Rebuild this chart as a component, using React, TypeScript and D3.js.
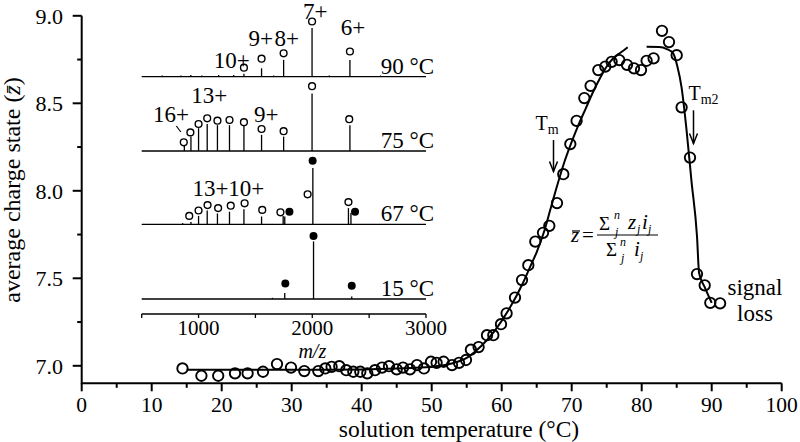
import React from 'react';
import * as d3 from 'd3';

// ---------- main data ----------
const temperatures = [14.4, 17.1, 19.5, 21.9, 23.7, 25.9, 27.9, 29.9, 31.8, 33.8, 34.8, 35.7, 36.8, 37.8, 38.8, 39.8, 40.8, 41.9, 42.9, 43.9, 45.0, 45.9, 46.9, 47.9, 48.9, 49.9, 50.7, 51.7, 52.9, 53.9, 54.9, 55.6, 56.7, 57.9, 58.8, 59.9, 60.7, 61.9, 62.9, 63.8, 64.8, 65.9, 66.8, 67.9, 68.8, 69.8, 70.7, 71.8, 72.7, 73.8, 74.8, 75.7, 76.8, 77.9, 78.9, 79.9, 80.7, 81.7, 82.9, 83.9, 85.0, 85.7, 86.9, 87.9, 89.0, 89.8, 91.2];
const chargeStates = [6.985, 6.943, 6.943, 6.957, 6.957, 6.966, 7.01, 6.99, 6.97, 6.97, 6.985, 6.994, 6.998, 6.975, 6.966, 6.966, 6.957, 6.975, 6.99, 6.998, 6.98, 6.99, 6.98, 7.004, 6.985, 7.023, 7.017, 7.023, 7.004, 7.017, 7.033, 7.092, 7.107, 7.175, 7.175, 7.238, 7.30, 7.39, 7.49, 7.575, 7.71, 7.76, 7.80, 7.93, 8.095, 8.267, 8.40, 8.53, 8.60, 8.69, 8.71, 8.737, 8.747, 8.72, 8.70, 8.69, 8.743, 8.757, 8.914, 8.85, 8.775, 8.477, 8.19, 7.524, 7.46, 7.36, 7.357];

const fit1T = [15, 25, 35, 45, 50, 53, 55, 57, 59, 61, 63, 64, 65, 66, 67, 68, 69, 70, 71, 72, 73, 74, 75, 76, 77, 78];
const fit1Z = [6.978, 6.978, 6.978, 6.985, 6.995, 7.015, 7.045, 7.11, 7.20, 7.32, 7.47, 7.56, 7.65, 7.76, 7.90, 8.04, 8.17, 8.28, 8.38, 8.47, 8.56, 8.64, 8.71, 8.76, 8.79, 8.82];
const fit2T = [80.7, 82.5, 83.6, 84.5, 85.1, 85.7, 86.4, 87.1, 87.9, 88.2, 89.0, 90.0];
const fit2Z = [8.823, 8.822, 8.81, 8.785, 8.71, 8.59, 8.35, 8.06, 7.74, 7.53, 7.45, 7.36];

const xTicks = [0, 10, 20, 30, 40, 50, 60, 70, 80, 90, 100];
const xMinorTicks = [5, 15, 25, 35, 45, 55, 65, 75, 85, 95];
const yTicks = [7.0, 7.5, 8.0, 8.5, 9.0];
const yMinorTicks = [7.25, 7.75, 8.25, 8.75];

const meltLabels = ['m', 'm2'];
const meltTemps = [67.4, 87.4];
const meltArrowTop = [8.29, 8.46];
const meltArrowBottom = [8.11, 8.27];

// ---------- inset spectra ----------
const spectrumLabels = ['90 °C', '75 °C', '67 °C', '15 °C'];
const insetTicks = [1000, 2000, 3000];
const insetMinorTicks = [500, 1500, 2500];

const spec90PeakMz = [680, 845, 932, 1028, 1177, 1309, 1399, 1554, 1660, 1748, 1998, 2150, 2331, 2600];
const spec90PeakInt = [2, 2, 3, 2, 3, 3, 5, 14, 2, 28, 81, 2, 28, 2];
const spec90OpenMz = [1399, 1554, 1748, 1998, 2331];
const spec90OpenInt = [15, 30, 39, 92, 42];

const spec75PeakMz = [875, 933, 1000, 1076, 1166, 1272, 1399, 1554, 1748, 1998, 2331];
const spec75PeakInt = [12, 24, 38, 45, 43, 43, 43, 27, 24, 96, 43];
const spec75OpenMz = [870, 928, 1000, 1076, 1166, 1272, 1399, 1554, 1748, 1998, 2325];
const spec75OpenInt = [14.5, 31, 45, 54.5, 50.5, 51.7, 48, 36.7, 33, 108, 53];

const spec67PeakMz = [860, 933, 1000, 1076, 1166, 1272, 1399, 1554, 1744, 1758, 2005, 2318, 2340];
const spec67PeakInt = [2, 4, 14, 23, 18, 21, 25, 13, 14, 13, 94, 27, 19];
const spec67OpenMz = [918, 1000, 1079, 1172, 1283, 1405, 1560, 1720, 1959, 2318];
const spec67OpenInt = [14, 23, 32, 27, 31, 35, 24, 20, 50, 37];
const spec67FilledMz = [1799, 2003, 2376];
const spec67FilledInt = [21, 106, 21];

const spec15PeakMz = [1650, 1758, 2011, 2347];
const spec15PeakInt = [2, 10, 96, 4];
const spec15FilledMz = [1763, 2011, 2347];
const spec15FilledInt = [26, 105, 22];

// charge-state labels
const labels90 = ['7+', '6+', '9+', '8+', '10+'];
const labels90Mz = [2025, 2357, 1547, 1775, 1291];
const labels90Int = [96, 70, 51, 51, 14.5];
const labels75 = ['13+', '16+', '9+'];
const labels75Mz = [1095, 758, 1595];
const labels75Int = [80, 48, 48];
const labels67 = ['13+10+'];
const labels67Mz = [1262];
const labels67Int = [47];

const FONT = '"Liberation Serif", "Times New Roman", serif';

export default function App() {
  const x = d3.scaleLinear().domain([0, 100]).range([81.7, 781.7]);
  const y = d3.scaleLinear().domain([6.9, 9.0]).range([383.3, 15.8]);

  const xi = d3.scaleLinear().domain([500, 3000]).range([141.7, 426]);
  const hi = d3.scaleLinear().domain([0, 100]).range([0, 60]);
  const baselines = [76.7, 151, 224.3, 299];
  const insetAxisY = 314;

  const fit1 = d3.line<number>().x((_, i) => x(fit1T[i])).y((_, i) => y(fit1Z[i])).curve(d3.curveMonotoneX)(fit1T);
  const fit2 = d3.line<number>().x((_, i) => x(fit2T[i])).y((_, i) => y(fit2Z[i])).curve(d3.curveMonotoneX)(fit2T);

  const spectra = [
    { peaksMz: spec90PeakMz, peaksInt: spec90PeakInt, openMz: spec90OpenMz, openInt: spec90OpenInt, filledMz: [] as number[], filledInt: [] as number[], labels: labels90, labelsMz: labels90Mz, labelsInt: labels90Int },
    { peaksMz: spec75PeakMz, peaksInt: spec75PeakInt, openMz: spec75OpenMz, openInt: spec75OpenInt, filledMz: [] as number[], filledInt: [] as number[], labels: labels75, labelsMz: labels75Mz, labelsInt: labels75Int },
    { peaksMz: spec67PeakMz, peaksInt: spec67PeakInt, openMz: spec67OpenMz, openInt: spec67OpenInt, filledMz: spec67FilledMz, filledInt: spec67FilledInt, labels: labels67, labelsMz: labels67Mz, labelsInt: labels67Int },
    { peaksMz: spec15PeakMz, peaksInt: spec15PeakInt, openMz: [] as number[], openInt: [] as number[], filledMz: spec15FilledMz, filledInt: spec15FilledInt, labels: [] as string[], labelsMz: [] as number[], labelsInt: [] as number[] },
  ];

  return (
    <svg width={800} height={442} style={{ position: 'absolute', left: 0, top: 0, background: '#fff' }} fontFamily={FONT}>
      <rect x={0} y={0} width={800} height={442} fill="#fff" />
      {/* main axes */}
      <line x1={x(0)} x2={x(100)} y1={y(6.9)} y2={y(6.9)} stroke="#000" strokeWidth={2} />
      <line x1={x(0)} x2={x(0)} y1={y(6.9) + 1} y2={y(9.0)} stroke="#000" strokeWidth={2} />
      {xTicks.map((t) => (
        <g key={'xt' + t}>
          <line x1={x(t)} x2={x(t)} y1={y(6.9)} y2={y(6.9) + 8} stroke="#000" strokeWidth={2} />
          <text x={x(t)} y={412} fontSize={21.5} textAnchor="middle">{t}</text>
        </g>
      ))}
      {xMinorTicks.map((t) => (
        <line key={'xm' + t} x1={x(t)} x2={x(t)} y1={y(6.9)} y2={y(6.9) + 4.5} stroke="#000" strokeWidth={2} />
      ))}
      {yTicks.map((t) => (
        <g key={'yt' + t}>
          <line x1={x(0) - 9} x2={x(0)} y1={y(t)} y2={y(t)} stroke="#000" strokeWidth={2} />
          <text x={63} y={y(t) + 8} fontSize={22} textAnchor="end">{t.toFixed(1)}</text>
        </g>
      ))}
      {yMinorTicks.map((t) => (
        <line key={'ym' + t} x1={x(0) - 4.5} x2={x(0)} y1={y(t)} y2={y(t)} stroke="#000" strokeWidth={2} />
      ))}
      <text x={459} y={437} fontSize={23.5} textAnchor="middle">solution temperature (°C)</text>
      <text transform={`translate(20, 190) rotate(-90)`} fontSize={24} textAnchor="middle">
        average charge state (<tspan fontStyle="italic">z̄</tspan>)
      </text>

      {/* fits */}
      <path d={fit1 || ''} fill="none" stroke="#000" strokeWidth={2} />
      <path d={fit2 || ''} fill="none" stroke="#000" strokeWidth={2} />

      {/* data */}
      {temperatures.map((t, i) => (
        <circle key={'p' + i} cx={x(t)} cy={y(chargeStates[i])} r={5.2} fill="none" stroke="#000" strokeWidth={1.9} />
      ))}

      {/* melting annotations */}
      {meltTemps.map((t, i) => {
        const ax = x(t);
        const yt = y(meltArrowTop[i]);
        const yb = y(meltArrowBottom[i]);
        return (
          <g key={'m' + i}>
            <line x1={ax} x2={ax} y1={yt} y2={yb} stroke="#000" strokeWidth={1.5} />
            <polyline points={`${ax - 4},${yb - 10} ${ax},${yb} ${ax + 4},${yb - 10}`} fill="none" stroke="#000" strokeWidth={1.5} />
            <text x={i === 0 ? ax - 18 : ax - 5} y={yt - 10} fontSize={20}>
              T<tspan fontSize={14} dy={4}>{meltLabels[i]}</tspan>
            </text>
          </g>
        );
      })}

      <text x={755} y={295} fontSize={23} textAnchor="middle">signal</text>
      <text x={755} y={321} fontSize={23} textAnchor="middle">loss</text>

      {/* formula */}
      <g fontStyle="italic" fontSize={21}>
        <text x={571} y={242}>z</text>
        <line x1={572} x2={580} y1={231} y2={231} stroke="#000" strokeWidth={1.2} />
        <text x={582} y={242} fontStyle="normal">=</text>
        <line x1={597} x2={658} y1={235} y2={235} stroke="#000" strokeWidth={1.2} />
        <text x={599} y={230} fontStyle="normal" fontSize={19}>Σ</text>
        <text x={614} y={219} fontSize={12}>n</text>
        <text x={615} y={236} fontSize={12}>j</text>
        <text x={628} y={229}>z</text>
        <text x={637} y={233} fontSize={12}>j</text>
        <text x={642} y={229}>i</text>
        <text x={648} y={233} fontSize={12}>j</text>
        <text x={606} y={256} fontStyle="normal" fontSize={19}>Σ</text>
        <text x={620} y={246} fontSize={12}>n</text>
        <text x={621} y={262} fontSize={12}>j</text>
        <text x={634} y={256}>i</text>
        <text x={640} y={260} fontSize={12}>j</text>
      </g>

      {/* inset */}
      {spectra.map((s, k) => {
        const b = baselines[k];
        return (
          <g key={'s' + k}>
            <line x1={xi(500)} x2={xi(3000)} y1={b} y2={b} stroke="#000" strokeWidth={1.3} />
            {s.peaksMz.map((mz, i) => (
              <line key={'pk' + i} x1={xi(mz)} x2={xi(mz)} y1={b} y2={b - hi(s.peaksInt[i])} stroke="#000" strokeWidth={1.3} />
            ))}
            {s.openMz.map((mz, i) => (
              <circle key={'o' + i} cx={xi(mz)} cy={b - hi(s.openInt[i])} r={3.4} fill="#fff" stroke="#000" strokeWidth={1.4} />
            ))}
            {s.filledMz.map((mz, i) => (
              <circle key={'f' + i} cx={xi(mz)} cy={b - hi(s.filledInt[i])} r={4} fill="#000" />
            ))}
            {s.labels.map((t, i) => (
              <text key={'l' + i} x={xi(s.labelsMz[i])} y={b - hi(s.labelsInt[i])} fontSize={23} textAnchor="middle">{t}</text>
            ))}
            <text x={434} y={b - 3} fontSize={23} textAnchor="end">{spectrumLabels[k]}</text>
          </g>
        );
      })}
      <line x1={xi(875) - 8} x2={xi(875) - 3.5} y1={baselines[1] - 25} y2={baselines[1] - 19} stroke="#000" strokeWidth={1.2} />
      <line x1={xi(500)} x2={xi(3000)} y1={insetAxisY} y2={insetAxisY} stroke="#000" strokeWidth={1.3} />
      {insetTicks.concat(insetMinorTicks).map((t) => (
        <line key={'it' + t} x1={xi(t)} x2={xi(t)} y1={insetAxisY} y2={insetAxisY + 4} stroke="#000" strokeWidth={1.3} />
      ))}
      {insetTicks.map((t) => (
        <text key={'itl' + t} x={xi(t)} y={335} fontSize={21} textAnchor="middle">{t}</text>
      ))}
      <text x={xi(2000)} y={358} fontSize={20} textAnchor="middle" fontStyle="italic">m/z</text>
    </svg>
  );
}
